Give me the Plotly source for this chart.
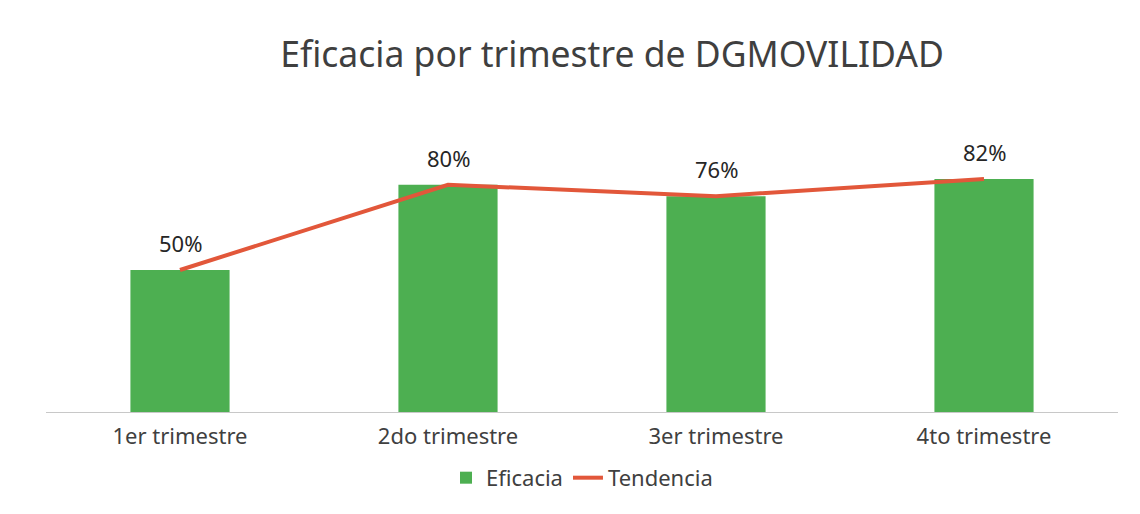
import plotly.graph_objects as go

categories = ["1er trimestre", "2do trimestre", "3er trimestre", "4to trimestre"]
eficacia = [50, 80, 76, 82]
tendencia = [50, 80, 76, 82]
labels = ["50%", "80%", "76%", "82%"]

FONT = "Noto Sans"
W, H = 1132, 506  # page body has an 8px margin
fig = go.Figure()
fig.add_trace(go.Bar(
    x=categories, y=eficacia, name="Eficacia",
    marker=dict(color="#4DAF51", line=dict(width=0)),
    width=0.37,
))
fig.add_trace(go.Scatter(
    x=categories, y=tendencia, name="Tendencia", mode="lines",
    line=dict(color="#E2573A", width=4),
))
for c, v, t in zip(categories, eficacia, labels):
    fig.add_annotation(x=c, y=v, text=t, showarrow=False, yshift=27,
                       font=dict(size=22, color="#262626", family=FONT))
fig.update_layout(
    width=W, height=H,
    margin=dict(l=38, r=22, t=120, b=102),
    paper_bgcolor="white", plot_bgcolor="white",
    title=dict(text="Eficacia por trimestre de DGMOVILIDAD", x=604 / W, xanchor="center",
               y=1 - 47 / H, yanchor="middle",
               font=dict(size=35.5, color="#3F3F3F", family=FONT)),
    font=dict(family=FONT, color="#404040"),
    showlegend=True,
    legend=dict(orientation="h", x=0.5, xanchor="center", y=-0.232, yanchor="middle",
                font=dict(size=22, color="#404040", family=FONT), traceorder="normal"),
    xaxis=dict(showgrid=False, showline=True, linecolor="#C8C8C8", linewidth=1,
               tickfont=dict(size=22, color="#404040", family=FONT), ticks="",
               ticklabelstandoff=5),
    yaxis=dict(range=[0, 100], visible=False, showgrid=False),
)
fig.write_html("out.html")
